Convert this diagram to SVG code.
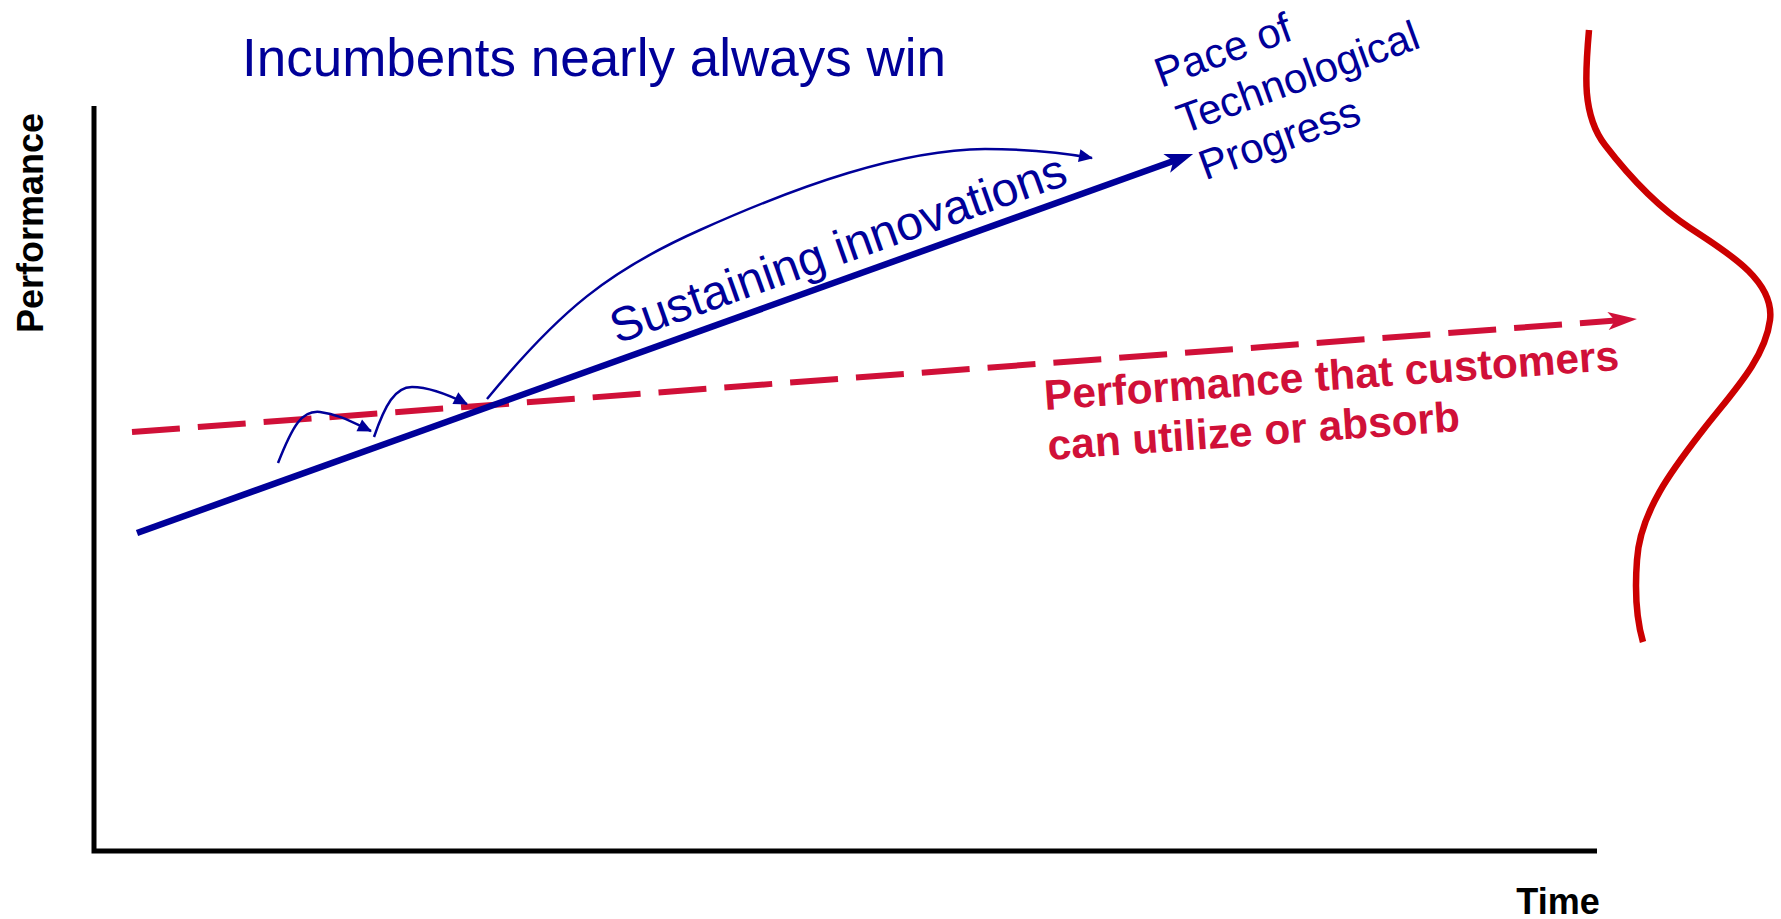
<svg xmlns="http://www.w3.org/2000/svg" width="1781" height="919" viewBox="0 0 1781 919">
<defs>
<style>
.blue{fill:#000099;font-family:"Liberation Sans",Arial,sans-serif}
.red{fill:#D01038;font-family:"Liberation Sans",Arial,sans-serif;font-weight:bold}
.axislbl{fill:#000;font-family:"Liberation Sans",Arial,sans-serif;font-weight:bold;font-size:36px}
.thin{fill:none;stroke:#000099;stroke-width:2.5;marker-end:url(#tri)}
</style>
<marker id="stealthBlue" markerUnits="userSpaceOnUse" viewBox="-16 -12 34 24" refX="0" refY="0" markerWidth="34" markerHeight="24" orient="auto" overflow="visible">
<path d="M15,0 L-13,-10 L-6,0 L-13,10 Z" fill="#000099"/>
</marker>
<marker id="stealthRed" markerUnits="userSpaceOnUse" viewBox="-16 -12 34 24" refX="0" refY="0" markerWidth="34" markerHeight="24" orient="auto" overflow="visible">
<path d="M15,0 L-14,-9 L-7,0 L-14,9 Z" fill="#D01038"/>
</marker>
<marker id="tri" markerUnits="userSpaceOnUse" viewBox="-16 -8 18 16" refX="0" refY="0" markerWidth="18" markerHeight="16" orient="auto" overflow="visible">
<path d="M1,0 L-13,-6.5 L-13,6.5 Z" fill="#000099"/>
</marker>
</defs>
<rect width="1781" height="919" fill="#fff"/>

<g id="axes">
<path d="M94,106 L94,851 L1597,851" fill="none" stroke="#000" stroke-width="5"/>
<text class="axislbl" transform="translate(43,223) rotate(-90)" text-anchor="middle">Performance</text>
<text class="axislbl" x="1558" y="914" text-anchor="middle">Time</text>
</g>

<g id="title">
<text class="blue" x="594" y="76" font-size="53" text-anchor="middle">Incumbents nearly always win</text>
</g>

<g id="connectors">
<path id="customer-line" d="M132,432 L1622,320" fill="none" stroke="#D01038" stroke-width="6" stroke-dasharray="48 18" marker-end="url(#stealthRed)"/>
<path id="tech-line" d="M137,533 L1179,159" fill="none" stroke="#000099" stroke-width="6.5" marker-end="url(#stealthBlue)"/>
<path class="thin" d="M278,463 C293,425 302,410 320,412 C338,414 352,422 371,431"/>
<path class="thin" d="M374,437 C385,405 395,387 412,387 C430,387 449,395 467,404"/>
<path class="thin" d="M487,399 C560,310 610,270 700,230 C800,185 900,150 985,149 C1030,149 1060,152 1092,158"/>
<path id="s-curve" d="M1589,30 C1585,75 1582,115 1605,145 C1628,175 1655,205 1690,228 C1725,251 1775,280 1770,320 C1765,360 1730,395 1703,430 C1676,465 1640,510 1637,560 C1634,600 1638,625 1643,642" fill="none" stroke="#CC0000" stroke-width="6.5"/>
</g>

<g id="label-sustaining">
<text class="blue" font-size="48" transform="translate(617,344) rotate(-19.5)">Sustaining innovations</text>
</g>

<g id="label-pace">
<text class="blue" font-size="42" transform="translate(1161,88) rotate(-20)"><tspan x="0" y="0">Pace of</tspan><tspan x="5" y="51">Technological</tspan><tspan x="10" y="102">Progress</tspan></text>
</g>

<g id="label-customers">
<text class="red" font-size="42.5" transform="translate(1045,410) rotate(-4)"><tspan x="0" y="0">Performance that customers</tspan><tspan x="0" y="50">can utilize or absorb</tspan></text>
</g>
</svg>
